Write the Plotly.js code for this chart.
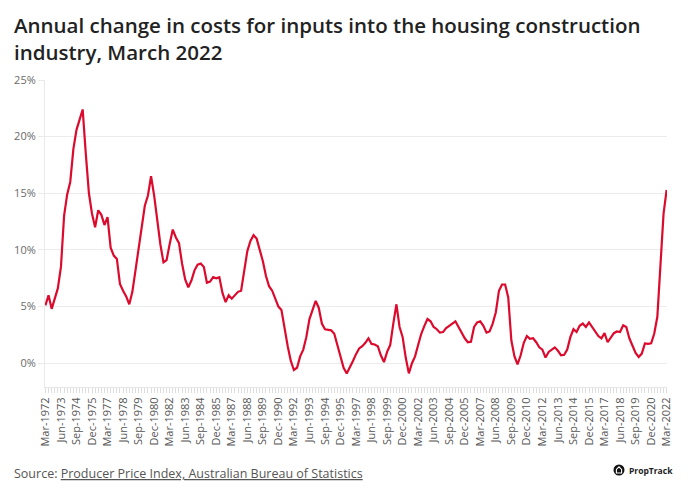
<!DOCTYPE html>
<html>
<head>
<meta charset="utf-8">
<script src="https://cdn.plot.ly/plotly-3.0.1.min.js"></script>
<style>
  html, body { margin: 0; padding: 0; background: #ffffff; }
  #chart { width: 695px; height: 500px; }
</style>
</head>
<body>
<div id="chart"></div>
<script>
// Quarterly series, Mar-1972 to Mar-2022 (annual % change)
const startYear = 1972;
const startMonth = 3; // March
const annualChange = [
  5.1, 6.0, 4.8, 5.8, 6.6, 8.5, 13.0, 14.9, 16.0, 18.9,
  20.6, 21.5, 22.4, 18.5, 15.0, 13.2, 12.0, 13.5, 13.1, 12.2,
  12.9, 10.2, 9.5, 9.2, 7.0, 6.4, 5.9, 5.2, 6.3, 8.2,
  10.2, 12.3, 13.9, 14.8, 16.5, 14.8, 12.4, 10.5, 8.9, 9.1,
  10.5, 11.8, 11.1, 10.6, 8.8, 7.4, 6.7, 7.3, 8.2, 8.7,
  8.8, 8.5, 7.1, 7.2, 7.6, 7.5, 7.6, 6.2, 5.4, 6.0,
  5.7, 6.0, 6.3, 6.4, 8.3, 9.9, 10.8, 11.3, 11.0, 10.0,
  9.0, 7.7, 6.8, 6.4, 5.7, 5.0, 4.7, 3.0, 1.5, 0.2,
  -0.6, -0.4, 0.6, 1.2, 2.3, 3.9, 4.8, 5.5, 4.9, 3.5,
  3.0, 2.95, 2.9, 2.6, 1.6, 0.4, -0.4, -0.9, -0.4, 0.2,
  0.8, 1.3, 1.5, 1.8, 2.2, 1.7, 1.65, 1.5, 0.7, 0.1,
  1.0, 1.6, 3.5, 5.2, 3.2, 2.3, 0.5, -0.9, 0.0, 0.6,
  1.6, 2.6, 3.3, 3.9, 3.7, 3.2, 3.0, 2.7, 2.75, 3.1,
  3.3, 3.5, 3.7, 3.2, 2.7, 2.2, 1.85, 1.9, 3.2, 3.6,
  3.7, 3.3, 2.7, 2.8, 3.5, 4.5, 6.4, 6.95, 6.95, 5.8,
  2.0, 0.6, -0.1, 0.7, 1.8, 2.4, 2.15, 2.2, 1.85, 1.4,
  1.2, 0.5, 1.0, 1.2, 1.4, 1.1, 0.7, 0.75, 1.2, 2.3,
  3.0, 2.75, 3.3, 3.5, 3.2, 3.6, 3.2, 2.9, 2.4, 2.2,
  2.65, 1.85, 2.3, 2.65, 2.8, 2.75, 3.35, 3.2, 2.2, 1.6,
  0.9, 0.55, 0.85, 1.75, 1.7, 1.75, 2.6, 4.1, 8.5, 13.2,
  15.3
];
const yTickVals = [0, 5, 10, 15, 20, 25];
const yTickText = ['0%', '5%', '10%', '15%', '20%', '25%'];

// quarter dates for the time axis
const quarterDates = annualChange.map((_, i) => {
  const m0 = (startMonth - 1) + 3 * i;
  const y = startYear + Math.floor(m0 / 12);
  const m = (m0 % 12) + 1;
  return y + '-' + String(m).padStart(2, '0') + '-01';
});

const FONT = '"Open Sans", "DejaVu Sans", sans-serif';

// pixel -> paper helpers (plot area: x 45..667, y 80..387)
const PX = X => (X - 45) / 622;
const PY = Y => (387 - Y) / 307;

const trace = {
  type: 'scatter',
  mode: 'lines',
  x: quarterDates,
  y: annualChange,
  line: { color: '#dc0a2d', width: 2.2 },
  hoverinfo: 'x+y'
};

const layout = {
  width: 695,
  height: 500,
  paper_bgcolor: '#ffffff',
  plot_bgcolor: '#ffffff',
  margin: { l: 45, r: 28, t: 80, b: 113 },
  showlegend: false,
  font: { family: FONT, color: '#555555' },
  xaxis: {
    type: 'date',
    range: ['1972-02-18', '2022-03-12'],
    tick0: '1972-03-01',
    dtick: 'M15',
    tickformat: '%b-%Y',
    tickangle: -90,
    tickfont: { family: FONT, size: 11, color: '#555555' },
    ticks: 'outside',
    ticklen: 5,
    tickcolor: '#dddddd',
    showgrid: false,
    showline: true,
    linecolor: '#e6e6e6',
    linewidth: 1,
    zeroline: false,
    minor: { dtick: 'M3', tick0: '1972-03-01', ticks: 'outside', ticklen: 5, tickcolor: '#dddddd', showgrid: false }
  },
  yaxis: {
    range: [-2.1, 25],
    tickmode: 'array',
    tickvals: yTickVals,
    ticktext: yTickText,
    tickfont: { family: FONT, size: 11, color: '#6a6a6a' },
    ticks: 'outside',
    ticklen: 6,
    tickcolor: '#eaeaea',
    showgrid: true,
    gridcolor: '#ececec',
    gridwidth: 1,
    showline: true,
    linecolor: '#eaeaea',
    zeroline: false
  },
  annotations: [
    {
      xref: 'paper', yref: 'paper',
      x: PX(12), y: PY(9),
      xanchor: 'left', yanchor: 'top', align: 'left',
      showarrow: false,
      text: 'Annual change in costs for inputs into the housing construction<br>industry, March 2022',
      font: { family: FONT, size: 20.5, color: '#222222', weight: 600 }
    },
    {
      xref: 'paper', yref: 'paper',
      x: PX(12), y: PY(473),
      xanchor: 'left', yanchor: 'middle',
      showarrow: false,
      text: 'Source: <u>Producer Price Index, Australian Bureau of Statistics</u>',
      font: { family: FONT, size: 12.5, color: '#555555' }
    },
    {
      xref: 'paper', yref: 'paper',
      x: PX(627), y: PY(470),
      xanchor: 'left', yanchor: 'middle',
      showarrow: false,
      text: '<b>PropTrack</b>',
      font: { family: FONT, size: 8.5, color: '#222222' }
    }
  ],
  shapes: [
    {
      type: 'circle', xref: 'paper', yref: 'paper',
      xsizemode: 'pixel', ysizemode: 'pixel',
      xanchor: PX(619), yanchor: PY(470),
      x0: -5.5, x1: 5.5, y0: -5.5, y1: 5.5,
      fillcolor: '#111111', line: { width: 0 }
    },
    {
      type: 'path', xref: 'paper', yref: 'paper',
      xsizemode: 'pixel', ysizemode: 'pixel',
      xanchor: PX(619), yanchor: PY(470),
      path: 'M -2.6 -3 L -2.6 0.6 L 0 3.2 L 2.6 0.6 L 2.6 -3 Z',
      fillcolor: 'rgba(0,0,0,0)', line: { color: '#ffffff', width: 1.1 }
    }
  ]
};

Plotly.newPlot('chart', [trace], layout, { displayModeBar: false, staticPlot: true });
</script>
</body>
</html>
